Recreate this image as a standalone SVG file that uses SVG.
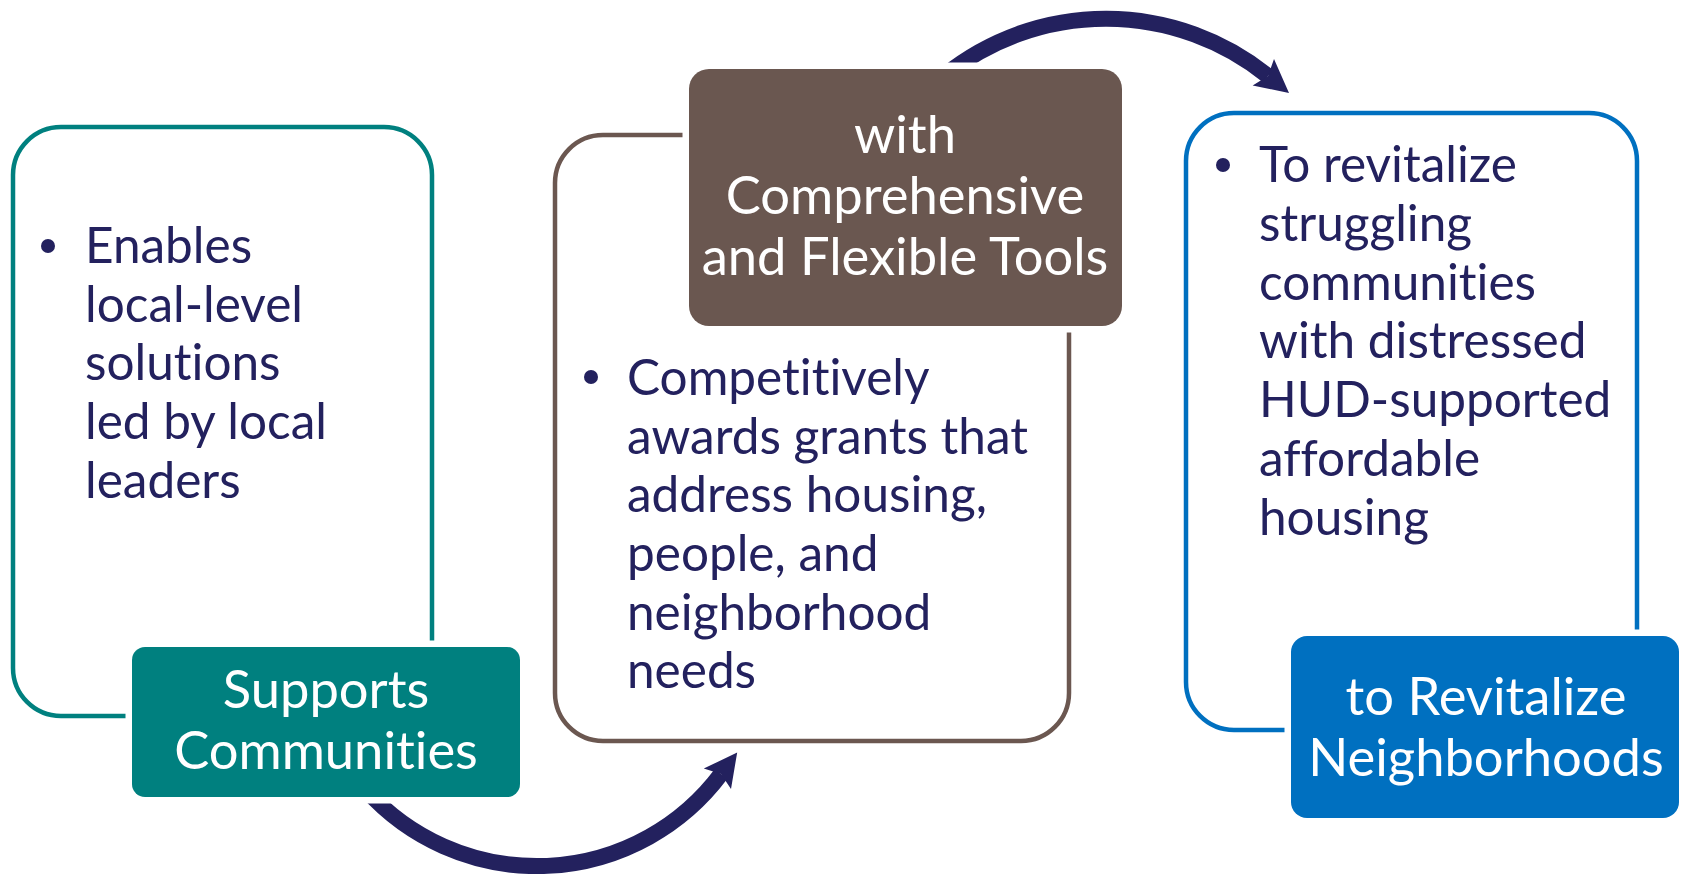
<svg xmlns="http://www.w3.org/2000/svg" width="1682" height="874" viewBox="0 0 1682 874">
<style>
.body{font-family:Lato,"Open Sans","Liberation Sans",sans-serif;font-size:49.5px;fill:#23215E;font-variant-ligatures:none}
.lab{font-family:Lato,"Open Sans","Liberation Sans",sans-serif;font-size:52.5px;fill:#FFFFFF;text-anchor:middle;font-variant-ligatures:none}
.frame{fill:none;stroke-width:4.5}
.tag{stroke:#FFFFFF;stroke-width:13;paint-order:stroke}
.conn{fill:none;stroke:#23215E;stroke-width:16}
</style>
<defs>
<marker id="head" markerUnits="userSpaceOnUse" markerWidth="40" markerHeight="40" refX="0" refY="0" viewBox="-8 -20 40 40" orient="auto" overflow="visible">
<path d="M -6,-17 L 27,0 L -6,17 L 0,0 Z" fill="#23215E"/>
</marker>
</defs>
<rect width="1682" height="874" fill="#FFFFFF"/>
<g id="connectors">
<path class="conn" d="M 366 790 A 230 230 0 0 0 721 774" marker-end="url(#head)"/>
<path class="conn" d="M 945 75 A 258 258 0 0 1 1268 76" marker-end="url(#head)"/>
</g>
<g id="node-supports">
<rect class="frame" x="13" y="127" width="419" height="589" rx="48" stroke="#00807F"/>
<circle cx="48" cy="246" r="7" fill="#23215E"/>
<text class="body" x="85" y="263">Enables</text>
<text class="body" x="85" y="322">local-level</text>
<text class="body" x="85" y="380">solutions</text>
<text class="body" x="85" y="439">led by local</text>
<text class="body" x="85" y="498">leaders</text>
<rect class="tag" x="132" y="647" width="388" height="150" rx="13" fill="#00807F"/>
<text class="lab" x="326" y="708">Supports</text>
<text class="lab" x="326" y="769">Communities</text>
</g>
<g id="node-tools">
<rect class="frame" x="555" y="135" width="514" height="606" rx="48" stroke="#6B5750"/>
<circle cx="591" cy="377" r="7" fill="#23215E"/>
<text class="body" x="627" y="395">Competitively</text>
<text class="body" x="627" y="454">awards grants that</text>
<text class="body" x="627" y="512">address housing,</text>
<text class="body" x="627" y="571">people, and</text>
<text class="body" x="627" y="630">neighborhood</text>
<text class="body" x="627" y="688">needs</text>
<rect class="tag" x="689" y="69" width="433" height="257" rx="20" fill="#6A5750"/>
<text class="lab" x="905" y="153">with</text>
<text class="lab" x="905" y="214">Comprehensive</text>
<text class="lab" x="905" y="275">and Flexible Tools</text>
</g>
<g id="node-revitalize">
<rect class="frame" x="1186" y="113" width="451" height="617" rx="48" stroke="#0070C0"/>
<circle cx="1223" cy="165" r="7" fill="#23215E"/>
<text class="body" x="1259" y="182">To revitalize</text>
<text class="body" x="1259" y="241">struggling</text>
<text class="body" x="1259" y="300">communities</text>
<text class="body" x="1259" y="358">with distressed</text>
<text class="body" x="1259" y="417">HUD-supported</text>
<text class="body" x="1259" y="476">affordable</text>
<text class="body" x="1259" y="535">housing</text>
<rect class="tag" x="1291" y="636" width="388" height="182" rx="16" fill="#0070C0"/>
<text class="lab" x="1486" y="715">to Revitalize</text>
<text class="lab" x="1486" y="776">Neighborhoods</text>
</g>
</svg>
